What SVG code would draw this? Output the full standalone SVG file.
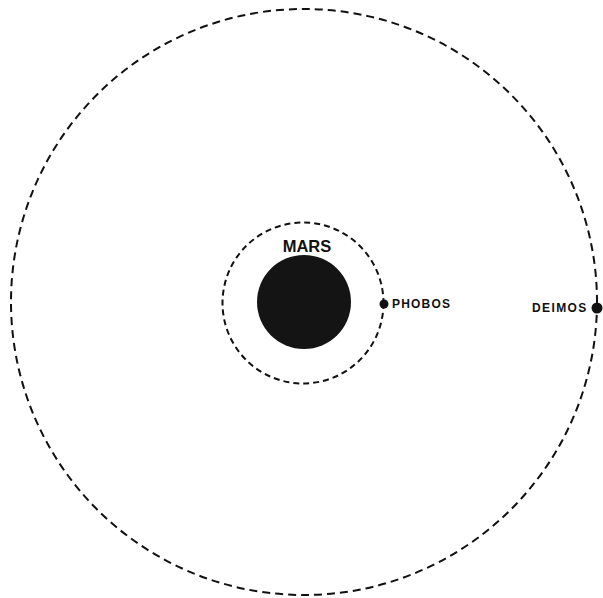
<svg xmlns="http://www.w3.org/2000/svg" width="603" height="598" viewBox="0 0 603 598">
<style>
.orbit{fill:none;stroke:#111;stroke-width:2}
.lbl{font-family:"Liberation Sans",Arial,sans-serif;font-weight:bold;fill:#111}
.moon{fill:#111}
</style>
<rect width="603" height="598" fill="#fff"/>
<g id="orbits">
<circle id="deimos-orbit" class="orbit" cx="304" cy="302" r="293" stroke-dasharray="8 5"/>
<circle id="phobos-orbit" class="orbit" cx="303" cy="303" r="80.5" stroke-dasharray="6 4"/>
</g>
<g id="mars">
<circle cx="304" cy="302" r="47" fill="#141414"/>
<text class="lbl" x="307" y="252" font-size="16.5" text-anchor="middle">MARS</text>
</g>
<g id="phobos">
<circle class="moon" cx="384" cy="304" r="4.5"/>
<text class="lbl" x="392" y="308" font-size="12" letter-spacing="1.2">PHOBOS</text>
</g>
<g id="deimos">
<circle class="moon" cx="597" cy="308" r="5.5"/>
<text class="lbl" x="532" y="312" font-size="12" letter-spacing="1.4">DEIMOS</text>
</g>
</svg>
